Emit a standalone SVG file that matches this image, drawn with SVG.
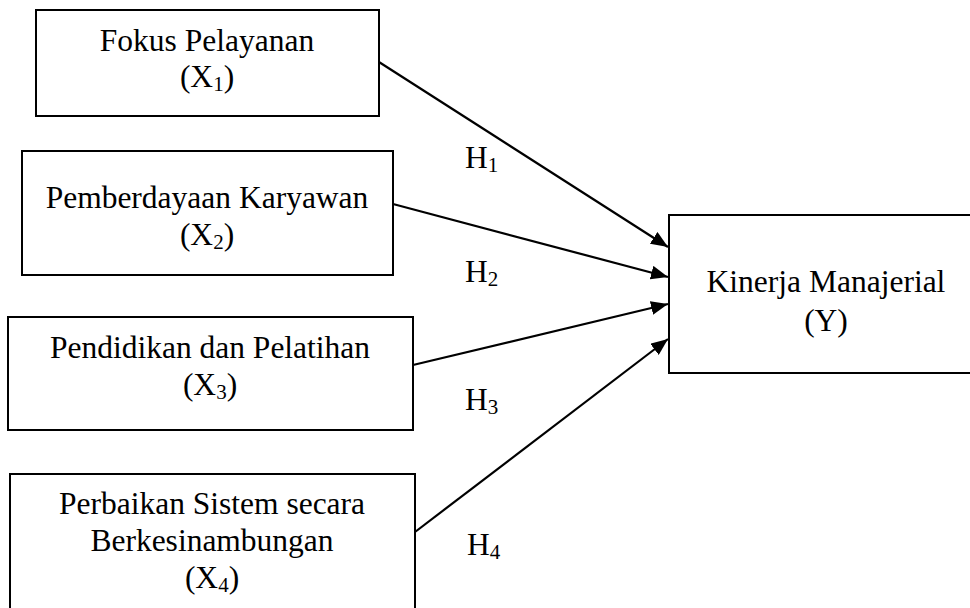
<svg xmlns="http://www.w3.org/2000/svg" width="970" height="608" viewBox="0 0 970 608">
<defs>
<style>
.box{fill:#fff;stroke:#000;stroke-width:2}
text{font-family:'Liberation Serif','Times New Roman',serif;font-size:31.5px;fill:#000}
.c{text-anchor:middle}
.sub{font-size:21px}
.ln{stroke:#000;stroke-width:2.2;fill:none;marker-end:url(#ah)}
</style>
<marker id="ah" markerUnits="userSpaceOnUse" markerWidth="18" markerHeight="14" refX="17" refY="7" orient="auto">
<path d="M0,0 L17,7 L0,14 z" fill="#000"/>
</marker>
</defs>
<rect width="970" height="608" fill="#fff"/>
<g id="x1">
<rect class="box" x="36" y="10" width="343" height="106"/>
<text class="c" x="207" y="51" font-family="Liberation Serif, serif">Fokus Pelayanan</text>
<text class="c" x="207" y="87" font-family="Liberation Serif, serif">(X<tspan class="sub" dy="4">1</tspan><tspan dy="-4">)</tspan></text>
</g>
<g id="x2">
<rect class="box" x="22" y="151" width="371" height="124"/>
<text class="c" x="207" y="208" font-family="Liberation Serif, serif">Pemberdayaan Karyawan</text>
<text class="c" x="207" y="245" font-family="Liberation Serif, serif">(X<tspan class="sub" dy="4">2</tspan><tspan dy="-4">)</tspan></text>
</g>
<g id="x3">
<rect class="box" x="8" y="317" width="405" height="113"/>
<text class="c" x="210" y="358" font-family="Liberation Serif, serif">Pendidikan dan Pelatihan</text>
<text class="c" x="210" y="395" font-family="Liberation Serif, serif">(X<tspan class="sub" dy="4">3</tspan><tspan dy="-4">)</tspan></text>
</g>
<g id="x4">
<rect class="box" x="10" y="474" width="405" height="150"/>
<text class="c" x="212" y="514" font-family="Liberation Serif, serif">Perbaikan Sistem secara</text>
<text class="c" x="212" y="551" font-family="Liberation Serif, serif">Berkesinambungan</text>
<text class="c" x="212" y="588" font-family="Liberation Serif, serif">(X<tspan class="sub" dy="4">4</tspan><tspan dy="-4">)</tspan></text>
</g>
<g id="y">
<rect class="box" x="669" y="215" width="316" height="158"/>
<text class="c" x="826" y="292" font-family="Liberation Serif, serif">Kinerja Manajerial</text>
<text class="c" x="826" y="331" font-family="Liberation Serif, serif">(Y)</text>
</g>
<g id="connectors">
<line class="ln" x1="379" y1="62" x2="668" y2="247"/>
<line class="ln" x1="393" y1="204" x2="668" y2="277"/>
<line class="ln" x1="413" y1="365" x2="668" y2="304"/>
<line class="ln" x1="415" y1="532" x2="668" y2="339"/>
</g>
<g id="labels">
<text x="465" y="168" font-family="Liberation Serif, serif">H<tspan class="sub" dy="4">1</tspan></text>
<text x="465" y="282" font-family="Liberation Serif, serif">H<tspan class="sub" dy="4">2</tspan></text>
<text x="465" y="410" font-family="Liberation Serif, serif">H<tspan class="sub" dy="4">3</tspan></text>
<text x="467" y="555" font-family="Liberation Serif, serif">H<tspan class="sub" dy="4">4</tspan></text>
</g>
</svg>
